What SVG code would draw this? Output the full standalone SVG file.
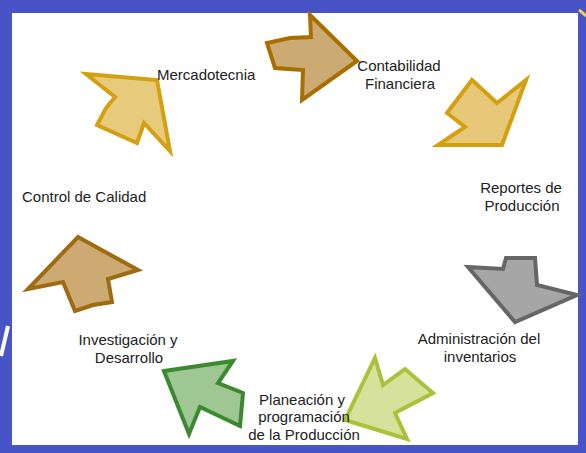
<svg xmlns="http://www.w3.org/2000/svg" width="586" height="453" viewBox="0 0 586 453">
<style>
text{font-family:"Liberation Sans",Arial,sans-serif;font-size:15px;fill:#222;}
.c{text-anchor:middle;}
.a{stroke-width:4;stroke-linejoin:miter;}
</style>
<rect x="0" y="0" width="586" height="453" fill="#4853c8"/>
<rect x="12" y="13" width="566" height="432" fill="#ffffff"/>
<path d="M579,10 Q583,13 586,16" stroke="#f2cc4a" stroke-width="3" fill="none"/>
<path d="M8,326 L1,356" stroke="#ffffff" stroke-width="4" fill="none"/>
<g id="connectors">
<polygon id="arrow1" class="a" fill="#cbaa74" stroke="#a86f00" points="310,15 357,61 302,100 303,70 275,68 267,43 290,38 311,37"/>
<polygon id="arrow2" class="a" fill="#e6c878" stroke="#d4a00f" points="472,80 497,103 526,80 502,145 438,145 465,127 447,113"/>
<polygon id="arrow3" class="a" fill="#a6a6a6" stroke="#666666" points="468,267 503,269 506,258 535,258 537,285 577,295 515,322"/>
<polygon id="arrow4" class="a" fill="#d6e19c" stroke="#a9c23a" points="375,358 383,385 405,369 433,393 395,413 407,439 345,420"/>
<polygon id="arrow5" class="a" fill="#9ec794" stroke="#3b8a30" points="164,371 233,361 218,383 243,393 240,426 200,407 189,434"/>
<polygon id="arrow6" class="a" fill="#cdaa72" stroke="#9e6a12" points="78,237 138,270 108,279 112,302 93,305 75,311 63,282 28,289"/>
<polygon id="arrow7" class="a" fill="#e8ca7c" stroke="#d2a010" points="86,74 157,80 170,151 144,123 137,143 97,125 106,108 115,97"/>
</g>
<g id="n1"><text x="157" y="80">Mercadotecnia</text></g>
<g id="n2"><text class="c" x="399" y="71">Contabilidad</text><text class="c" x="400" y="89">Financiera</text></g>
<g id="n3"><text class="c" x="521" y="193">Reportes de</text><text class="c" x="522" y="211">Producción</text></g>
<g id="n4"><text class="c" x="479" y="344">Administración del</text><text class="c" x="480" y="362">inventarios</text></g>
<g id="n5"><text class="c" x="302" y="405">Planeación y</text><text class="c" x="304" y="422">programación</text><text class="c" x="304" y="440">de la Producción</text></g>
<g id="n6"><text class="c" x="128" y="345">Investigación y</text><text class="c" x="129" y="363">Desarrollo</text></g>
<g id="n7"><text x="22" y="202">Control de Calidad</text></g>
</svg>
